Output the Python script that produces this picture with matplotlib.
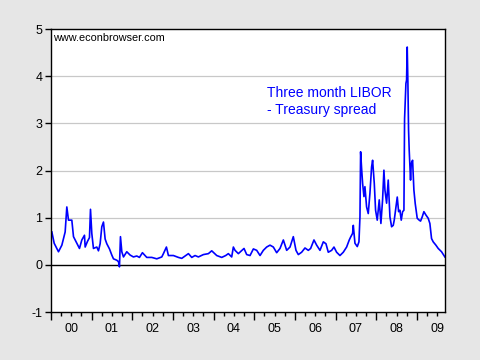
"""Three month LIBOR - Treasury (TED) spread, 2000-2009."""

import numpy as np
import matplotlib
matplotlib.use("Agg")
import matplotlib.pyplot as plt
from matplotlib.ticker import MultipleLocator, FixedLocator

# decimal-year dates and spread values (percentage points)
dates = [
    2000.024, 2000.081, 2000.187, 2000.270, 2000.351, 2000.392, 2000.433, 2000.515,
    2000.556, 2000.638, 2000.703, 2000.761, 2000.826, 2000.843, 2000.900, 2000.949,
    2000.974, 2001.006, 2001.047, 2001.129, 2001.170, 2001.211, 2001.252, 2001.293,
    2001.334, 2001.375, 2001.441, 2001.498, 2001.539, 2001.621, 2001.662, 2001.686,
    2001.711, 2001.744, 2001.785, 2001.866, 2001.948, 2002.030, 2002.112, 2002.178,
    2002.251, 2002.358, 2002.481, 2002.604, 2002.727, 2002.767, 2002.841, 2002.890,
    2003.013, 2003.136, 2003.218, 2003.300, 2003.382, 2003.464, 2003.545, 2003.627,
    2003.750, 2003.873, 2003.955, 2004.078, 2004.201, 2004.299, 2004.364, 2004.446,
    2004.487, 2004.528, 2004.610, 2004.749, 2004.815, 2004.897, 2004.979, 2005.061,
    2005.143, 2005.224, 2005.306, 2005.388, 2005.470, 2005.552, 2005.634, 2005.716,
    2005.798, 2005.880, 2005.961, 2006.027, 2006.084, 2006.166, 2006.248, 2006.330,
    2006.387, 2006.469, 2006.535, 2006.617, 2006.699, 2006.764, 2006.821, 2006.903,
    2006.961, 2007.026, 2007.108, 2007.190, 2007.272, 2007.337, 2007.370, 2007.419,
    2007.436, 2007.477, 2007.534, 2007.575, 2007.600, 2007.616, 2007.640, 2007.665,
    2007.698, 2007.722, 2007.763, 2007.804, 2007.845, 2007.886, 2007.911, 2007.952,
    2007.984, 2008.025, 2008.074, 2008.115, 2008.156, 2008.189, 2008.214, 2008.255,
    2008.295, 2008.337, 2008.378, 2008.418, 2008.443, 2008.517, 2008.550, 2008.582,
    2008.615, 2008.648, 2008.681, 2008.697, 2008.713, 2008.730, 2008.746, 2008.762,
    2008.779, 2008.795, 2008.811, 2008.844, 2008.861, 2008.894, 2008.926, 2008.959,
    2009.008, 2009.057, 2009.090, 2009.131, 2009.172, 2009.221, 2009.278, 2009.319,
    2009.360, 2009.401, 2009.467, 2009.524, 2009.606, 2009.688,
]
spread = [
    0.70, 0.46, 0.28, 0.42, 0.70, 1.23, 0.95, 0.95,
    0.60, 0.46, 0.35, 0.53, 0.63, 0.38, 0.50, 0.58,
    1.18, 0.67, 0.35, 0.38, 0.30, 0.45, 0.81, 0.91,
    0.55, 0.45, 0.34, 0.21, 0.13, 0.10, 0.07, -0.04,
    0.60, 0.28, 0.17, 0.28, 0.21, 0.17, 0.19, 0.16,
    0.26, 0.16, 0.16, 0.13, 0.17, 0.24, 0.38, 0.20,
    0.20, 0.16, 0.14, 0.19, 0.24, 0.16, 0.20, 0.17,
    0.22, 0.24, 0.30, 0.20, 0.16, 0.20, 0.24, 0.17,
    0.38, 0.31, 0.24, 0.35, 0.22, 0.20, 0.34, 0.31,
    0.20, 0.31, 0.38, 0.42, 0.38, 0.26, 0.35, 0.53,
    0.31, 0.38, 0.60, 0.31, 0.22, 0.27, 0.36, 0.31,
    0.35, 0.53, 0.42, 0.31, 0.49, 0.45, 0.27, 0.31,
    0.38, 0.27, 0.20, 0.27, 0.38, 0.53, 0.59, 0.67,
    0.84, 0.46, 0.39, 0.49, 1.02, 2.40, 2.05, 1.73,
    1.45, 1.66, 1.23, 1.09, 1.52, 2.08, 2.22, 1.73,
    1.16, 0.95, 1.38, 0.88, 1.38, 2.01, 1.59, 1.31,
    1.80, 1.02, 0.81, 0.84, 0.95, 1.44, 1.13, 1.16,
    0.95, 1.13, 1.16, 3.10, 3.49, 3.85, 3.92, 4.62,
    3.85, 2.86, 2.43, 1.80, 2.15, 2.22, 1.59, 1.30,
    0.99, 0.95, 0.93, 1.02, 1.13, 1.06, 0.99, 0.88,
    0.56, 0.49, 0.42, 0.35, 0.28, 0.17,
]
years = list(range(2000, 2010))
year_labels = [f"{y % 100:02d}" for y in years]
y_ticks = [-1, 0, 1, 2, 3, 4, 5]

BG = "#e6e6e6"
plt.rcParams["font.family"] = ["Liberation Sans", "DejaVu Sans"]

fig = plt.figure(figsize=(4.8, 3.6), dpi=100, facecolor=BG)
ax = fig.add_axes([0.106, 0.133, 0.821, 0.786])
ax.set_facecolor("white")

for g in [1, 2, 3, 4]:
    ax.axhline(g, color="#c8c8c8", lw=0.9, zorder=0)
ax.axhline(0, color="black", lw=1.0, zorder=1)
ax.plot(dates, spread, color="#0000ff", lw=1.2, zorder=2)

ax.set_xlim(2000.0, 2009.69)
ax.set_ylim(-1, 5)

for side in ["top", "right", "left", "bottom"]:
    ax.spines[side].set_linewidth(1.0)
    ax.spines[side].set_color("black")

ax.set_yticks(y_ticks)
ax.set_yticklabels([str(v) for v in y_ticks], fontsize=9)
ax.tick_params(axis="y", direction="out", length=4, width=1, pad=2)

# year ticks long, quarter ticks short, labels centred between years
ax.xaxis.set_major_locator(FixedLocator(years))
ax.xaxis.set_minor_locator(MultipleLocator(0.25))
ax.tick_params(axis="x", which="major", direction="out", length=6, width=1, labelbottom=False)
ax.tick_params(axis="x", which="minor", direction="out", length=3, width=1)

sec = ax.secondary_xaxis("bottom")
sec.set_xticks([y + 0.5 for y in years])
sec.set_xticklabels(year_labels, fontsize=9)
sec.tick_params(length=0, pad=8)
sec.spines["bottom"].set_visible(False)

ax.text(0.005, 0.985, "www.econbrowser.com", transform=ax.transAxes,
        fontsize=7.8, va="top", ha="left")
ax.text(0.548, 0.80, "Three month LIBOR\n- Treasury spread", transform=ax.transAxes,
        fontsize=10, color="#0000ff", va="top", ha="left", linespacing=1.3)

fig.savefig("out.png", dpi=100, facecolor=BG)
